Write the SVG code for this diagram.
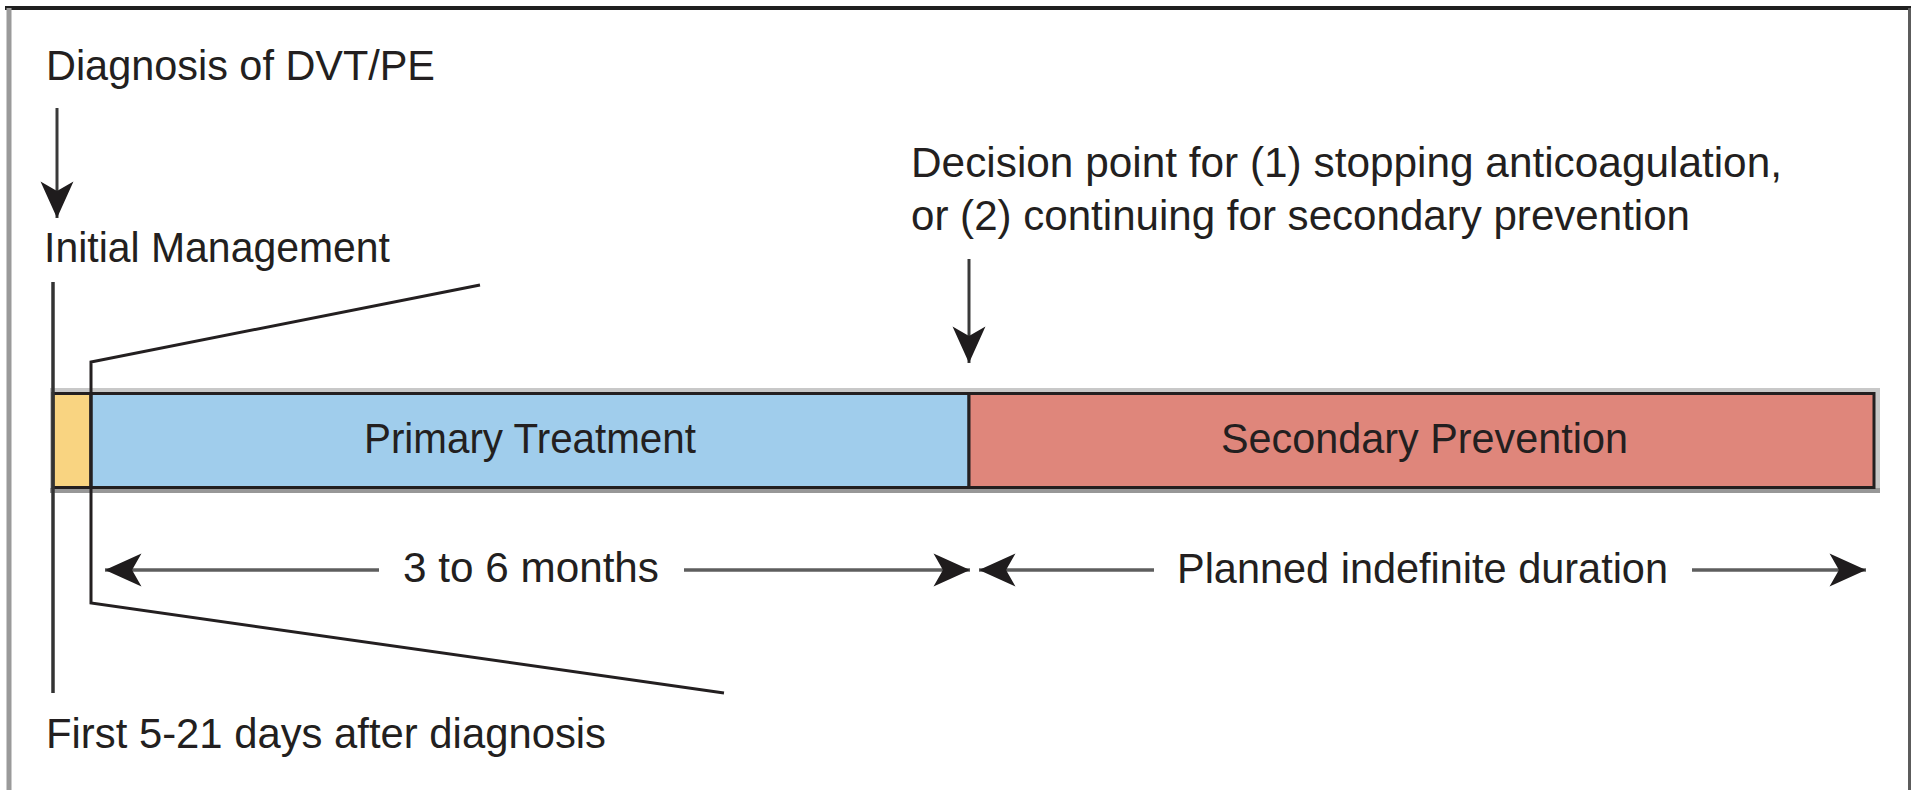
<svg xmlns="http://www.w3.org/2000/svg" width="1916" height="790" viewBox="0 0 1916 790">
  <style>
    .txt { font-family: "Liberation Sans", Arial, sans-serif; font-size: 42px; fill: #231f20; }
    .seg { stroke: #231f20; stroke-width: 3; }
    .conn { fill: none; stroke: #3a3a3a; stroke-width: 3; }
    .dim { fill: none; stroke: #5e5e5e; stroke-width: 3.5; }
    .bracket { fill: none; stroke: #231f20; stroke-width: 3; stroke-linejoin: miter; }
  </style>
  <defs>
    <marker id="head" markerUnits="userSpaceOnUse" markerWidth="40" markerHeight="40" viewBox="-32 -16 34 32" refX="0" refY="0" orient="auto">
      <path d="M0,0 L-31,-14 L-23,0 L-31,14 Z" fill="#1f1c1d"/>
    </marker>
  </defs>

  <rect width="1916" height="790" fill="#ffffff"/>

  <!-- outer frame: heavy top rule, grey side rules -->
  <g id="frame">
    <line x1="5" y1="8" x2="1911" y2="8" stroke="#1f1f1f" stroke-width="4"/>
    <line x1="9" y1="8" x2="9" y2="790" stroke="#9a9a9a" stroke-width="5"/>
    <line x1="1909.5" y1="8" x2="1909.5" y2="790" stroke="#5c5c5c" stroke-width="3"/>
  </g>

  <!-- timeline bar shadow -->
  <g id="bar-shadow">
    <rect x="50" y="388" width="1830" height="104" fill="#c8c8c8"/>
    <rect x="50" y="488" width="1830" height="5" fill="#979797"/>
  </g>

  <g id="initial-phase">
    <rect class="seg" x="53" y="393.5" width="38" height="94" fill="#f9d481"/>
  </g>

  <g id="primary-treatment">
    <rect class="seg" x="91" y="393.5" width="878" height="94" fill="#a0cdec"/>
    <text class="txt" x="364" y="453" textLength="332" lengthAdjust="spacingAndGlyphs">Primary Treatment</text>
  </g>

  <g id="secondary-prevention">
    <rect class="seg" x="969" y="393.5" width="905" height="94" fill="#df867b" stroke="#2e2222"/>
    <text class="txt" x="1221" y="453" textLength="407" lengthAdjust="spacingAndGlyphs">Secondary Prevention</text>
  </g>

  <g id="diagnosis">
    <text class="txt" x="46" y="80" textLength="389" lengthAdjust="spacingAndGlyphs">Diagnosis of DVT/PE</text>
  </g>

  <g id="initial-management">
    <text class="txt" x="44" y="262" textLength="346" lengthAdjust="spacingAndGlyphs">Initial Management</text>
  </g>

  <g id="decision-point">
    <text class="txt" x="911" y="177" textLength="871" lengthAdjust="spacingAndGlyphs">Decision point for (1) stopping anticoagulation,</text>
    <text class="txt" x="911" y="230" textLength="779" lengthAdjust="spacingAndGlyphs">or (2) continuing for secondary prevention</text>
  </g>

  <g id="first-days">
    <text class="txt" x="46" y="748" textLength="560" lengthAdjust="spacingAndGlyphs">First 5-21 days after diagnosis</text>
  </g>

  <g id="duration-primary">
    <text class="txt" x="403" y="582" textLength="256" lengthAdjust="spacingAndGlyphs">3 to 6 months</text>
  </g>

  <g id="duration-secondary">
    <text class="txt" x="1177" y="583" textLength="491" lengthAdjust="spacingAndGlyphs">Planned indefinite duration</text>
  </g>

  <!-- connectors: arrows, marker line and zoom bracket -->
  <g id="connectors">
    <line class="conn" x1="57" y1="108" x2="57" y2="218" marker-end="url(#head)"/>
    <line class="conn" x1="969" y1="259" x2="969" y2="363" marker-end="url(#head)"/>
    <line x1="53" y1="282" x2="53" y2="693" stroke="#333333" stroke-width="3.5"/>
    <polyline class="bracket" points="480,285 91,362 91,603 724,693"/>
    <line class="dim" x1="379" y1="570" x2="105" y2="570" marker-end="url(#head)"/>
    <line class="dim" x1="684" y1="570" x2="970" y2="570" marker-end="url(#head)"/>
    <line class="dim" x1="1154" y1="570" x2="979" y2="570" marker-end="url(#head)"/>
    <line class="dim" x1="1692" y1="570" x2="1866" y2="570" marker-end="url(#head)"/>
  </g>
</svg>
